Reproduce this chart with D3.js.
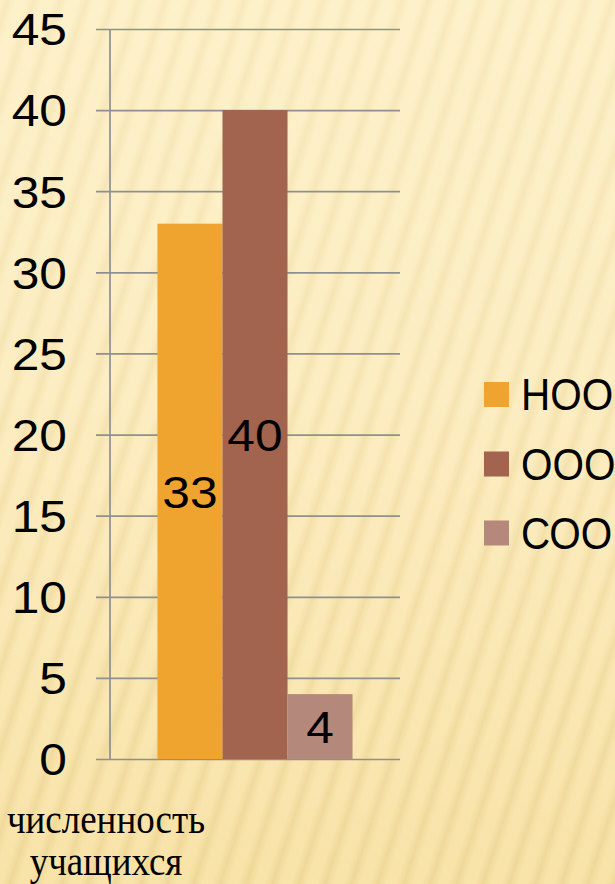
<!DOCTYPE html>
<html>
<head>
<meta charset="utf-8">
<script src="https://cdn.jsdelivr.net/npm/d3@7"></script>
<style>
  html, body { margin: 0; padding: 0; background: #fdf0c8; }
  svg { display: block; }
</style>
</head>
<body>
<script>
// ---- data ----
const categories = ["численность учащихся"];
const seriesNames = ["НОО", "ООО", "СОО"];
const seriesValues = [33, 40, 4];
const yTicks = [0, 5, 10, 15, 20, 25, 30, 35, 40, 45];

// ---- styles ----
const seriesColors = ["#EFA430", "#A2634F", "#B5887C"];

const W = 615, H = 884;
const svg = d3.select("body").append("svg").attr("width", W).attr("height", H);
const defs = svg.append("defs");

// background gradient
const bg = defs.append("linearGradient").attr("id", "bgGrad")
  .attr("x1", 0).attr("y1", 0).attr("x2", 0).attr("y2", 1);
bg.append("stop").attr("offset", "0%").attr("stop-color", "#FDF1CA");
bg.append("stop").attr("offset", "45%").attr("stop-color", "#FCEDC2");
bg.append("stop").attr("offset", "100%").attr("stop-color", "#F8E3A8");

// stripe
const sg = defs.append("linearGradient").attr("id", "stripeGrad")
  .attr("x1", 0).attr("y1", 0).attr("x2", 1).attr("y2", 0);
sg.append("stop").attr("offset", "0%").attr("stop-color", "#E6CE8A").attr("stop-opacity", 0);
sg.append("stop").attr("offset", "50%").attr("stop-color", "#E6CE8A").attr("stop-opacity", 0.5);
sg.append("stop").attr("offset", "100%").attr("stop-color", "#E6CE8A").attr("stop-opacity", 0);
const pat = defs.append("pattern").attr("id", "stripes")
  .attr("patternUnits", "userSpaceOnUse").attr("width", 25).attr("height", 200)
  .attr("patternTransform", "rotate(18)");
pat.append("rect").attr("x", 0).attr("y", 0).attr("width", 15).attr("height", 200)
  .attr("fill", "url(#stripeGrad)");

const mg = defs.append("linearGradient").attr("id", "maskGrad")
  .attr("x1", 0).attr("y1", 0).attr("x2", 0).attr("y2", 1);
mg.append("stop").attr("offset", "0%").attr("stop-color", "#fff").attr("stop-opacity", 0.4);
mg.append("stop").attr("offset", "40%").attr("stop-color", "#fff").attr("stop-opacity", 0.55);
mg.append("stop").attr("offset", "100%").attr("stop-color", "#fff").attr("stop-opacity", 1);
defs.append("mask").attr("id", "stripeMask")
  .append("rect").attr("width", W).attr("height", H).attr("fill", "url(#maskGrad)");

svg.append("rect").attr("width", W).attr("height", H).attr("fill", "url(#bgGrad)");
svg.append("rect").attr("width", W).attr("height", H).attr("fill", "url(#stripes)")
  .attr("mask", "url(#stripeMask)");

// ---- scales ----
const plotLeft = 110, plotRight = 400, gridLeft = 96;
const y = d3.scaleLinear().domain([0, 45]).range([759, 29]);
const x0 = d3.scaleBand().domain(categories).range([plotLeft, plotRight]).paddingInner(0).paddingOuter(0);
const x1 = d3.scaleBand().domain(seriesNames).range([0, x0.bandwidth()]).paddingInner(0).paddingOuter(0.73);

// gridlines
const grid = svg.append("g").attr("transform", `translate(${gridLeft},0)`)
  .call(d3.axisLeft(y).tickValues(yTicks).tickSize(-(plotRight - gridLeft)).tickFormat(""));
grid.select(".domain").remove();
grid.selectAll(".tick line").attr("stroke", "#8f8f8f").attr("stroke-width", 1.7);

// vertical axis line
svg.append("line").attr("x1", plotLeft).attr("x2", plotLeft)
  .attr("y1", y(45)).attr("y2", y(0)).attr("stroke", "#8f8f8f").attr("stroke-width", 1.7);

// tick labels
const labels = svg.append("g")
  .call(d3.axisLeft(y).tickValues(yTicks).tickSize(0).tickFormat(d3.format("d")));
labels.select(".domain").remove();
labels.selectAll(".tick text")
  .attr("x", null).attr("dy", null)
  .attr("transform", "translate(67,15.8) scale(1.13,1)")
  .attr("text-anchor", "end")
  .attr("font-family", "'Liberation Sans', Arial, sans-serif")
  .attr("font-size", 44).attr("fill", "#000");

// bars
const barG = svg.append("g");
categories.forEach(cat => {
  const g = barG.append("g").attr("transform", `translate(${x0(cat)},0)`);
  g.selectAll("rect").data(seriesValues).join("rect")
    .attr("x", (d, i) => x1(seriesNames[i]))
    .attr("y", d => y(d))
    .attr("width", x1.bandwidth())
    .attr("height", d => y(0) - y(d))
    .attr("fill", (d, i) => seriesColors[i]);
  g.selectAll("text").data(seriesValues).join("text")
    .attr("transform", (d, i) => `translate(${x1(seriesNames[i]) + x1.bandwidth() / 2},${(y(d) + y(0)) / 2 + 16.5}) scale(1.13,1)`)
    .attr("text-anchor", "middle")
    .attr("font-family", "'Liberation Sans', Arial, sans-serif")
    .attr("font-size", 44).attr("fill", "#000")
    .text(d => d);
});

// category label (x axis), wrapped onto two lines
const words = categories[0].split(" ");
const baselines = [833, 875];
words.forEach((w, i) => {
  svg.append("text")
    .attr("transform", `translate(106,${baselines[i]}) scale(1,1.12)`)
    .attr("text-anchor", "middle")
    .attr("font-family", "'Liberation Serif', 'Times New Roman', serif")
    .attr("font-size", 37).attr("fill", "#000")
    .text(w);
});

// legend
const legend = svg.append("g");
const legendY = [394.5, 464, 533];
seriesNames.forEach((name, i) => {
  legend.append("rect").attr("x", 484).attr("y", legendY[i] - 12.5)
    .attr("width", 25).attr("height", 25).attr("fill", seriesColors[i]);
  legend.append("text")
    .attr("transform", `translate(521,${legendY[i] + 15.8}) scale(0.92,1)`)
    .attr("font-family", "'Liberation Sans', Arial, sans-serif")
    .attr("font-size", 44).attr("fill", "#000")
    .text(name);
});
</script>
</body>
</html>
